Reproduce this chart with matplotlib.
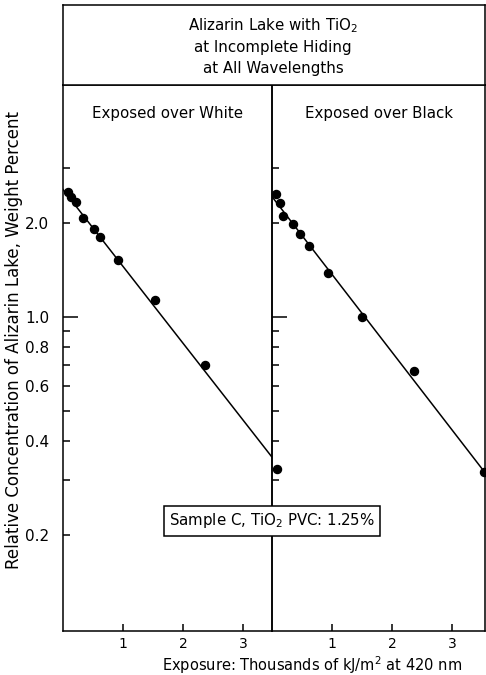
import matplotlib
matplotlib.use("Agg")
import matplotlib.pyplot as plt

# exposure (thousands of kJ/m2 at 420 nm) vs relative concentration (weight %)
white_x = [0.08, 0.14, 0.21, 0.34, 0.51, 0.61, 0.92, 1.53, 2.36, 3.56]
white_y = [2.52, 2.42, 2.33, 2.07, 1.92, 1.80, 1.52, 1.13, 0.70, 0.325]
black_x = [0.06, 0.13, 0.18, 0.35, 0.47, 0.62, 0.93, 1.50, 2.37, 3.53]
black_y = [2.48, 2.32, 2.10, 1.98, 1.84, 1.69, 1.38, 1.00, 0.673, 0.319]

# fitted straight lines (end points)
white_fit_x = [0.0, 3.48]
white_fit_y = [2.56, 0.356]
black_fit_x = [0.0, 3.55]
black_fit_y = [2.43, 0.317]

x_ticks = [1, 2, 3]
y_ticks = [3.0, 2.0, 0.9, 0.8, 0.7, 0.6, 0.5, 0.4, 0.3, 0.2]
y_labels = ["", "2.0", "", "0.8", "", "0.6", "", "0.4", "", "0.2"]

W, H = 486, 675
fig = plt.figure(figsize=(W / 100, H / 100), dpi=100)
plt.rcParams['font.family'] = ['DejaVu Sans']

def fx(px):
    return px / W

def fy(py):
    return 1 - py / H

x0, xm, x1 = 63, 272, 485
ytop, ybot = 85, 631
lw = 1.1

ax_w = fig.add_axes([fx(x0), fy(ybot), fx(xm) - fx(x0), fy(ytop) - fy(ybot)])
ax_b = fig.add_axes([fx(xm), fy(ybot), fx(x1) - fx(xm), fy(ytop) - fy(ybot)])
ax_h = fig.add_axes([fx(x0), fy(ytop), fx(x1) - fx(x0), fy(5) - fy(ytop)])
ax_b.patch.set_visible(False)

panels = [
    (ax_w, white_x, white_y, white_fit_x, white_fit_y, "Exposed over White", 3.483),
    (ax_b, black_x, black_y, black_fit_x, black_fit_y, "Exposed over Black", 3.55),
]

for ax, xs, ys, fxs, fys, name, xmax in panels:
    ax.set_yscale('log')
    ax.set_xlim(0, xmax)
    ax.set_ylim(0.0985, 5.54)
    ax.plot(fxs, fys, color='black', lw=1.1)
    ax.plot(xs, ys, 'o', color='black', ms=5.8, clip_on=False, zorder=5)
    for s in ax.spines.values():
        s.set_linewidth(lw)
    ax.set_xticks(x_ticks, [str(t) for t in x_ticks])
    ax.tick_params(axis='x', direction='in', length=5, width=lw, pad=4, labelsize=10)
    ax.set_yticks([1.0], ["1.0"])
    ax.set_yticks(y_ticks, y_labels, minor=True)
    ax.tick_params(axis='y', which='major', direction='in', length=11, width=lw,
                   pad=10, labelsize=11)
    ax.tick_params(axis='y', which='minor', direction='in', length=5, width=lw,
                   pad=10, labelsize=11)
    ax.text(0.5, 0.947, name, transform=ax.transAxes, ha='center', va='center',
            fontsize=10.8)

ax_b.tick_params(axis='y', which='both', labelleft=False)

ax_h.set_xticks([])
ax_h.set_yticks([])
for s in ax_h.spines.values():
    s.set_linewidth(lw)
fig.text(fx(273), fy(46), "Alizarin Lake with TiO$_2$\nat Incomplete Hiding\nat All Wavelengths",
         ha='center', va='center', fontsize=10.8, linespacing=1.45)

fig.text(fx(272), fy(521), "Sample C, TiO$_2$ PVC: 1.25%", ha='center', va='center',
         fontsize=10.8, zorder=10,
         bbox=dict(boxstyle='square,pad=0.35', fc='white', ec='black', lw=lw))

fig.text(fx(14), fy(340), "Relative Concentration of Alizarin Lake, Weight Percent",
         rotation=90, ha='center', va='center', fontsize=12)
fig.text(fx(312), fy(665), "Exposure: Thousands of kJ/m$^2$ at 420 nm",
         ha='center', va='center', fontsize=10.5)

fig.savefig("out.png", dpi=100)
